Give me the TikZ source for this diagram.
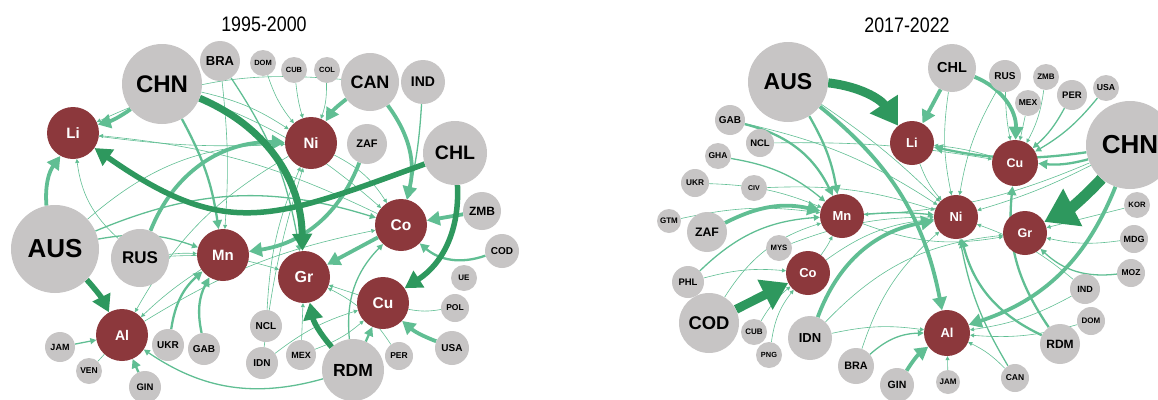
\documentclass[tikz,border=0pt]{standalone}
\usepackage{fontspec}
\setmainfont{Liberation Sans}
\usetikzlibrary{arrows.meta}
\definecolor{ngray}{RGB}{199,197,197}
\definecolor{nred}{RGB}{140,56,60}
\definecolor{eg}{RGB}{96,190,147}
\definecolor{egd}{RGB}{46,152,94}
\pgfdeclarelayer{edges}
\pgfsetlayers{edges,main}
\begin{document}
\begin{tikzpicture}[x=1pt,y=1pt,
  gn/.style={circle, fill=ngray, inner sep=0pt, text=black},
  mn/.style={circle, fill=nred, inner sep=0pt, text=white},
  dia/.style={minimum size=#1pt},
  fz/.style={font=\fontsize{#1}{#1}\selectfont\bfseries},
  ttl/.style={font=\fontsize{21}{21}\selectfont, xscale=0.85, transform shape},
  ea/.style={draw=eg, line width=0.6pt, -{Triangle[length=4pt,width=4pt]}},
  eb/.style={draw=eg, line width=1.3pt, -{Triangle[length=6pt,width=6pt]}},
  ec/.style={draw=eg, line width=2.3pt, -{Triangle[length=9pt,width=9pt]}},
  ed/.style={draw=eg, line width=3.8pt, -{Triangle[length=13pt,width=14pt]}},
  ee/.style={draw=egd, line width=5.5pt, -{Triangle[length=17pt,width=19pt]}},
  ef/.style={draw=egd, line width=9pt, -{Triangle[length=26pt,width=32pt]}},
]
\useasboundingbox (0,0) rectangle (1158,-399);

% ---------- titles ----------
\node[ttl] (T1) at (264,-24) {1995-2000};
\node[ttl] (T2) at (907,-25) {2017-2022};

% ---------- left panel nodes ----------
\node[gn,dia=80,fz=24] (CHNa) at (162,-84) {CHN};
\node[gn,dia=40,fz=13] (BRAa) at (220,-61) {BRA};
\node[gn,dia=26,fz=7.5] (DOMa) at (263,-63) {DOM};
\node[gn,dia=26,fz=7.5] (CUBa) at (294,-70) {CUB};
\node[gn,dia=26,fz=7.5] (COLa) at (327,-70) {COL};
\node[gn,dia=58,fz=18] (CANa) at (370,-82) {CAN};
\node[gn,dia=44,fz=14] (INDa) at (423,-82) {IND};
\node[mn,dia=52,fz=15] (Nia) at (311,-143) {Ni};
\node[gn,dia=40,fz=11] (ZAFa) at (367,-144) {ZAF};
\node[gn,dia=64,fz=19.5] (CHLa) at (455,-153) {CHL};
\node[mn,dia=52,fz=15] (Lia) at (73,-133) {Li};
\node[gn,dia=88,fz=26] (AUSa) at (55,-249) {AUS};
\node[gn,dia=58,fz=17] (RUSa) at (140,-258) {RUS};
\node[mn,dia=52,fz=15] (Mna) at (223,-255) {Mn};
\node[mn,dia=52,fz=14] (Ala) at (122,-335) {Al};
\node[gn,dia=30,fz=9] (JAMa) at (60,-347) {JAM};
\node[gn,dia=26,fz=8.5] (VENa) at (89,-371) {VEN};
\node[gn,dia=32,fz=9.5] (GINa) at (145,-387) {GIN};
\node[gn,dia=32,fz=10] (UKRa) at (168,-345) {UKR};
\node[gn,dia=32,fz=10] (GABa) at (204,-349) {GAB};
\node[gn,dia=32,fz=10] (NCLa) at (266,-326) {NCL};
\node[gn,dia=32,fz=10] (IDNa) at (262,-363) {IDN};
\node[mn,dia=52,fz=16] (Gra) at (304,-277) {Gr};
\node[mn,dia=52,fz=15.5] (Coa) at (401,-225) {Co};
\node[mn,dia=52,fz=15.5] (Cua) at (383,-303) {Cu};
\node[gn,dia=38,fz=12] (ZMBa) at (482,-211) {ZMB};
\node[gn,dia=34,fz=10] (CODa) at (502,-251) {COD};
\node[gn,dia=26,fz=8] (UEa) at (464,-278) {UE};
\node[gn,dia=28,fz=8.5] (POLa) at (455,-308) {POL};
\node[gn,dia=34,fz=10] (USAa) at (452,-348) {USA};
\node[gn,dia=28,fz=8.5] (PERa) at (399,-356) {PER};
\node[gn,dia=62,fz=17.5] (RDMa) at (353,-370) {RDM};
\node[gn,dia=30,fz=9] (MEXa) at (301,-355) {MEX};

% ---------- right panel nodes ----------
\node[gn,dia=80,fz=23] (AUSb) at (788,-82) {AUS};
\node[gn,dia=30,fz=10] (GABb) at (730,-120) {GAB};
\node[gn,dia=28,fz=9.5] (NCLb) at (760,-143) {NCL};
\node[gn,dia=26,fz=8.5] (GHAb) at (718,-156) {GHA};
\node[gn,dia=28,fz=8.3] (UKRb) at (695,-183) {UKR};
\node[gn,dia=26,fz=7] (CIVb) at (754,-188) {CIV};
\node[gn,dia=48,fz=14.5] (CHLb) at (952,-68) {CHL};
\node[gn,dia=32,fz=10] (RUSb) at (1005,-76) {RUS};
\node[gn,dia=26,fz=8] (ZMBb) at (1046,-77) {ZMB};
\node[gn,dia=26,fz=8.5] (MEXb) at (1028,-103) {MEX};
\node[gn,dia=30,fz=9.5] (PERb) at (1072,-95) {PER};
\node[gn,dia=26,fz=8.7] (USAb) at (1106,-88) {USA};
\node[mn,dia=44,fz=13] (Lib) at (912,-143) {Li};
\node[mn,dia=46,fz=12.5] (Cub) at (1015,-163) {Cu};
\node[gn,dia=88,fz=26] (CHNb) at (1130,-145) {CHN};
\node[gn,dia=24,fz=8] (GTMb) at (669,-221) {GTM};
\node[gn,dia=40,fz=12.3] (ZAFb) at (707,-232) {ZAF};
\node[mn,dia=44,fz=13] (Mnb) at (842,-216) {Mn};
\node[gn,dia=26,fz=7.7] (MYSb) at (779,-248) {MYS};
\node[mn,dia=44,fz=13] (Cob) at (808,-273) {Co};
\node[gn,dia=32,fz=9.5] (PHLb) at (688,-282) {PHL};
\node[gn,dia=60,fz=18.4] (CODb) at (709,-323) {COD};
\node[gn,dia=26,fz=8] (CUBb) at (754,-332) {CUB};
\node[gn,dia=26,fz=7.4] (PNGb) at (769,-355) {PNG};
\node[gn,dia=44,fz=13] (IDNb) at (810,-338) {IDN};
\node[gn,dia=36,fz=10.8] (BRAb) at (856,-366) {BRA};
\node[mn,dia=44,fz=13] (Nib) at (956,-217) {Ni};
\node[mn,dia=44,fz=12.5] (Grb) at (1025,-233) {Gr};
\node[gn,dia=26,fz=7.7] (KORb) at (1137,-205) {KOR};
\node[gn,dia=28,fz=9] (MDGb) at (1134,-239) {MDG};
\node[gn,dia=28,fz=8.5] (MOZb) at (1131,-273) {MOZ};
\node[gn,dia=30,fz=9] (INDb) at (1085,-289) {IND};
\node[gn,dia=28,fz=8] (DOMb) at (1091,-321) {DOM};
\node[mn,dia=46,fz=13] (Alb) at (947,-333) {Al};
\node[gn,dia=40,fz=12] (RDMb) at (1060,-344) {RDM};
\node[gn,dia=34,fz=10.5] (GINb) at (897,-385) {GIN};
\node[gn,dia=24,fz=8] (JAMb) at (948,-382) {JAM};
\node[gn,dia=28,fz=8.5] (CANb) at (1015,-378) {CAN};

\begin{pgfonlayer}{edges}
% ---------- left panel edges ----------
\draw[ea] (DOMa) to[bend right=10] (Nia);
\draw[ea] (CUBa) to[bend right=5] (Nia);
\draw[ea] (COLa) to[bend left=10] (Nia);
\draw[ea] (CHNa) to[bend left=10] (Nia);
\draw[ea] (BRAa) to[bend left=5] (Mna);
\draw[eb] (BRAa) to[bend left=12] (Gra);
\draw[ea] (CANa) to[bend right=15] (Lia);
\draw[ea] (Lia) to[bend right=5] (Nia);
\draw[ea] (RUSa) to[bend left=20] (Lia);
\draw[eb] (AUSa) to[bend left=15] (Mna);
\draw[ea] (AUSa) to[bend left=20] (Nia);
\draw[eb] (AUSa) to[bend left=20] (Coa);
\draw[ea] (RUSa) to[bend left=10] (Gra);
\draw[ea] (RUSa) to[bend left=5] (Mna);
\draw[ea] (Mna) to[bend right=5] (Ala);
\draw[ea] (Nia) to[bend right=15] (Ala);
\draw[ea] (Ala) to[bend left=10] (Coa);
\draw[ea] (NCLa) to[bend left=10] (Nia);
\draw[ea] (IDNa) to[bend left=5] (Nia);
\draw[ea] (IDNa) to[bend left=10] (Cua);
\draw[ea] (MEXa) to (Gra);
\draw[ea] (MEXa) to[bend right=10] (Cua);
\draw[ea] (PERa) to[bend right=15] (Gra);
\draw[ea,-] (POLa) to[bend left=10] (Cua);
\draw[eb] (RDMa) to[bend left=25] (Coa);
\draw[ea] (Cua) to (Gra);
\draw[ea] (Nia) to[bend left=15] (Coa);
\draw[ea] (CHNa) to[bend left=10] (Coa);
\draw[ea] (Coa) to[bend right=10] (Lia);
\draw[ea,-] (VENa) -- (Ala);
\draw[eb] (JAMa) -- (Ala);
\draw[eb] (RDMa) to[bend left=25] (Ala);
\draw[ec] (GINa) to (Ala);
\draw[ec] (UKRa) to[bend left=20] (Mna);
\draw[ec] (GABa) to[bend left=20] (Mna);
\draw[ec] (RDMa) to (Cua);
\draw[eb] (INDa) to[bend left=5] (Coa);
\draw[ec] (CHNa) to[bend left=10] (Mna);
\draw[ec] (CODa) to[bend left=30] (Coa);
\draw[ed] (USAa) to[bend left=10] (Cua);
\draw[ed] (ZMBa) to (Coa);
\draw[ed] (Coa) to (Gra);
\draw[ed] (ZAFa) to[bend left=30] (Mna);
\draw[ed] (CHNa) to[bend left=10] (Lia);
\draw[ed] (CANa) to[bend right=10] (Nia);
\draw[ed] (RUSa) to[bend left=35] (Nia);
\draw[ed] (AUSa) to[bend left=20] (Lia);
\draw[ee] (RDMa) to[bend left=15] (Gra);
\draw[ed] (CANa) to[bend left=25] (Coa);
\draw[ee] (CHLa) to[bend left=30] (Cua);
\draw[ee] (AUSa) to[bend left=8] (Ala);
\draw[ee] (CHLa) to[out=200,in=-35,looseness=1.25] (Lia);
\draw[ee,line width=7pt] (CHNa) to[bend left=33] (Gra);

% ---------- right panel edges ----------
\draw[ea] (GTMb) to[bend left=10] (Mnb);
\draw[ea] (UKRb) to[bend left=10] (Mnb);
\draw[eb] (GHAb) to[bend left=15] (Mnb);
\draw[ea] (NCLb) to[bend left=5] (Cub);
\draw[ea] (CIVb) to[bend left=10] (Nib);
\draw[ea] (MYSb) to[bend left=10] (Nib);
\draw[ea] (CUBb) to[bend left=10] (Cob);
\draw[ea] (PNGb) to[bend left=15] (Cob);
\draw[ea] (CODb) to[bend left=20] (Mnb);
\draw[eb] (PHLb) to[bend left=20] (Mnb);
\draw[ea] (PHLb) to[bend left=10] (Cob);
\draw[ea] (RUSb) to[bend right=5] (Cub);
\draw[ea] (MEXb) to (Cub);
\draw[ea] (ZMBb) to[bend left=10] (Cub);
\draw[eb] (PERb) to[bend left=10] (Cub);
\draw[eb] (USAb) to[bend left=10] (Cub);
\draw[ea] (RUSb) to[bend right=10] (Nib);
\draw[ea] (CHLb) to[bend right=10] (Nib);
\draw[ea] (Cub) to[bend right=5] (Lib);
\draw[eb] (Mnb) to[bend left=5] (Nib);
\draw[ea] (Mnb) to[bend right=15] (Grb);
\draw[ea] (Cob) to[bend left=15] (Nib);
\draw[ea] (Cob) to[bend right=5] (Mnb);
\draw[ea] (IDNb) to[bend left=10] (Alb);
\draw[ea] (IDNb) to[bend left=20] (Grb);
\draw[eb] (BRAb) to[bend left=20] (Alb);
\draw[ea] (BRAb) to[bend left=15] (Nib);
\draw[ea] (JAMb) to (Alb);
\draw[eb] (CANb) to[bend left=10] (Nib);
\draw[ea] (CANb) to[bend right=10] (Alb);
\draw[ea] (INDb) to[bend left=10] (Alb);
\draw[ea] (DOMb) to[bend left=10] (Alb);
\draw[ea] (INDb) to[bend right=10] (Nib);
\draw[ea] (KORb) to (Grb);
\draw[ea] (MDGb) to[bend left=10] (Grb);
\draw[eb] (MOZb) to[bend left=25] (Grb);
\draw[ea] (CHNb) to[bend left=5] (Nib);
\draw[ea] (CHNb) to[bend left=10] (Mnb);
\draw[ea] (Lib) to[bend right=10] (Nib);
\draw[ea] (AUSb) to[bend left=5] (Nib);
\draw[ea] (GABb) to[bend left=10] (Nib);
\draw[ec] (CHNb) to[bend left=10] (Cub);
\draw[ec] (CHNb) to[bend left=10] (Lib);
\draw[ec] (RDMb) to[bend left=20] (Cub);
\draw[ec] (RDMb) to[bend left=25] (Nib);
\draw[ed] (GINb) to[bend left=10] (Alb);
\draw[ed] (CHLb) to (Lib);
\draw[ec] (AUSb) to[bend left=10] (Mnb);
\draw[ec] (GABb) to[bend left=25] (Mnb);
\draw[ed] (ZAFb) to[bend left=20] (Mnb);
\draw[ed] (IDNb) to[bend left=30] (Nib);
\draw[ed] (CHLb) to[bend left=35] (Cub);
\draw[ed] (AUSb) to[bend left=20] (Alb);
\draw[ed] (CHNb) to[bend left=25] (Alb);
\draw[ef] (CODb) to (Cob);
\draw[ef] (AUSb) to[bend left=25] (Lib);
\draw[ef, line width=11pt, -{Triangle[length=32pt,width=40pt]}] (CHNb) to[bend left=10] (Grb);
\end{pgfonlayer}
\end{tikzpicture}
\end{document}
